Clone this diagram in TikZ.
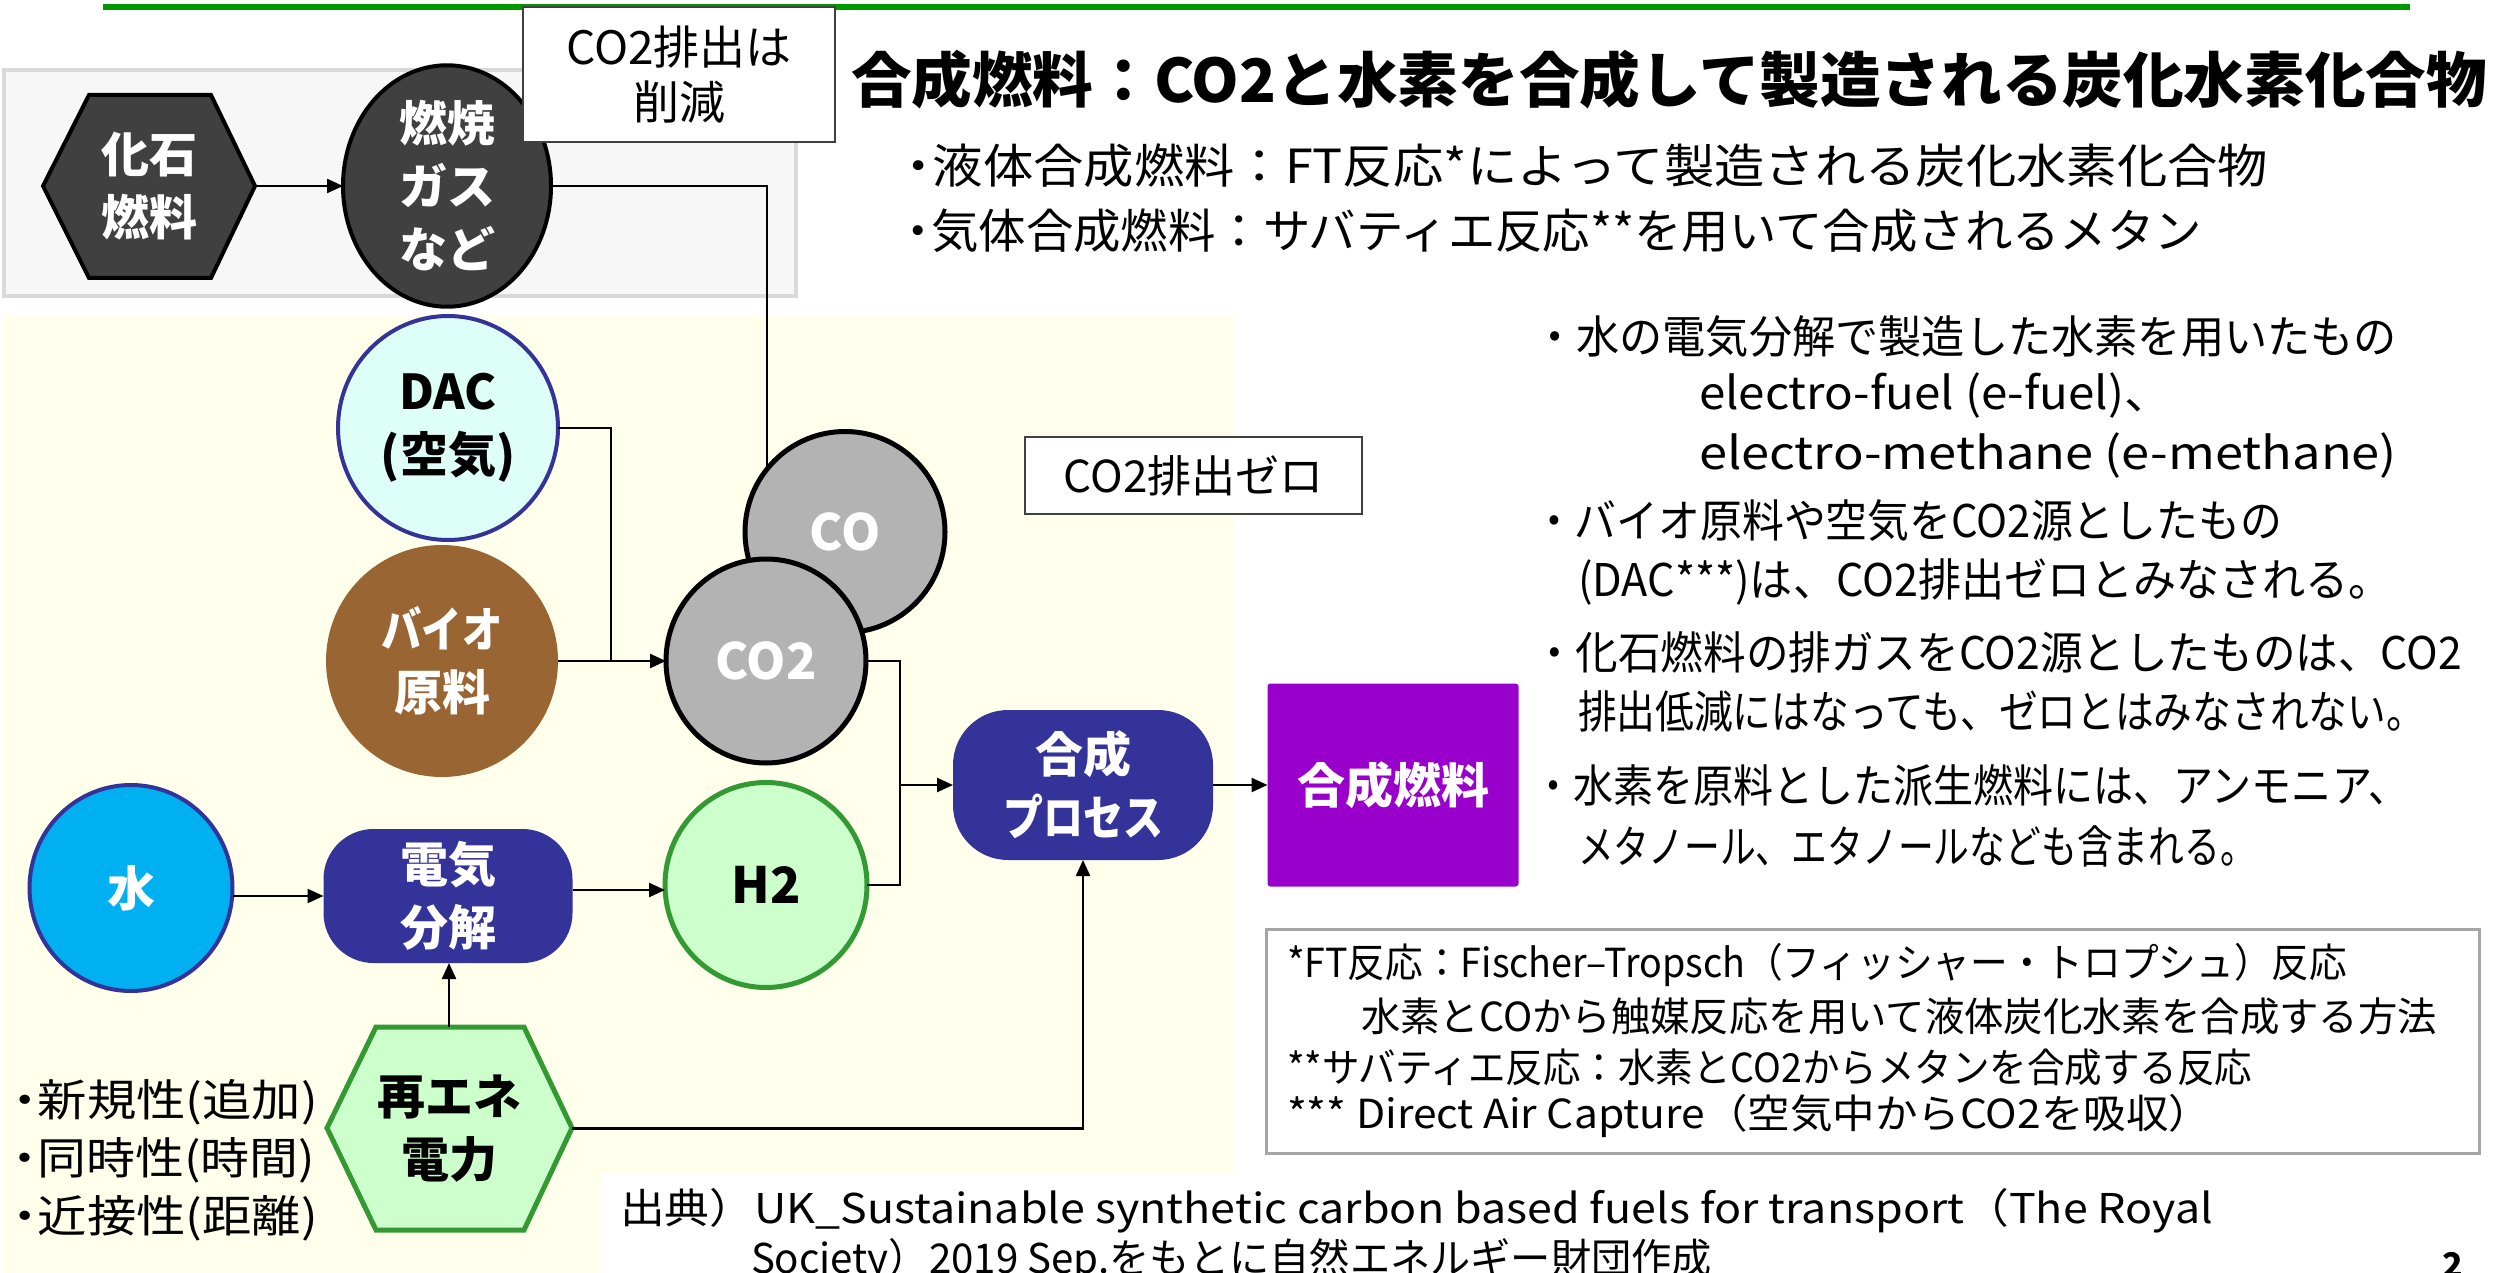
\documentclass[tikz,border=0pt]{standalone}
\usepackage{fontspec}
\usepackage{graphicx}
\setmainfont{Noto Sans CJK JP}
\usetikzlibrary{shapes.geometric,arrows.meta,calc}
\definecolor{navy}{HTML}{333399}
\definecolor{ylw}{HTML}{FFFFEB}
\definecolor{dgray}{HTML}{404040}
\definecolor{mgray}{HTML}{B3B3B3}
\definecolor{lgreen}{HTML}{CCFFCC}
\definecolor{dgreen}{HTML}{339933}
\definecolor{aqua}{HTML}{DDFFF7}
\definecolor{skyb}{HTML}{00B0F0}
\definecolor{bbrown}{HTML}{996633}
\definecolor{purp}{HTML}{9900CC}
\definecolor{topgreen}{HTML}{009900}
\definecolor{boxgray}{HTML}{F7F7F7}
\definecolor{boxline}{HTML}{D9D9D9}
\definecolor{fnline}{HTML}{A6A6A6}
\newcommand\fsz[2]{\fontsize{#1pt}{#2pt}\selectfont}
\newcommand\fitw[2]{\resizebox{#1pt}{\height}{#2}}
\begin{document}
\begin{tikzpicture}[x=1pt,y=-1pt,
  every node/.style={inner sep=0pt,outer sep=0pt},
  conn/.style={line width=2.4pt,draw=black},
  arr/.style={line width=2.4pt,draw=black,-{Triangle[length=16pt,width=14pt]}},
  lbl/.style={align=center,font=\fsz{48}{63}\bfseries},
  ell/.style={ellipse,lbl},
  rbox/.style={lbl,fill=navy,text=white},
  txt/.style={anchor=west,font=\fsz{45}{54}},
  fn/.style={anchor=west,font=\fsz{40}{50}},
  src/.style={anchor=west,font=\fsz{41}{50}},
  lb/.style={anchor=west,font=\fsz{44}{52}}]
\useasboundingbox (0,0) rectangle (2494,1273);
% backgrounds
\fill[ylw] (4,316) rectangle (1233,1273);
\fill[white] (602,1174) rectangle (1233,1273);
\draw[boxline,fill=boxgray,line width=4pt] (4,70) rectangle (796,296);
\fill[topgreen] (103,4) rectangle (2410,10);
% fossil row
\filldraw[fill=dgray,draw=black,line width=4pt] (43,186) -- (89,95) -- (211,95) -- (255,186) -- (211,278) -- (89,278) -- cycle;
\node[lbl,text=white,minimum width=212,minimum height=183] (fossil) at (149,186) {化石\\燃料};
\node[ell,fill=dgray,draw=black,line width=4pt,text=white,minimum width=208,minimum height=208] (burn) at (447,186) {燃焼\\ガス\\など};
\draw[arr] (fossil.east) -- (burn.west);
\node[draw=dgray,fill=white,line width=2pt,minimum width=312,minimum height=135,align=center,font=\fsz{46}{55}] (cut) at (679,74.5) {CO2排出は\\削減};
% sources
\node[ell,fill=aqua,draw=navy,line width=4pt,minimum width=220,minimum height=224] (dac) at (448,428) {DAC\\(空気)};
\node[ell,fill=bbrown,text=white,minimum width=232,minimum height=232] (bio) at (442,661) {\fitw{121}{バイオ}\\原料};
\node[ell,fill=mgray,draw=black,line width=5pt,text=white,minimum width=200,minimum height=201,font=\fsz{50}{60}\bfseries] (co) at (845,532) {CO};
\node[ell,fill=mgray,draw=black,line width=5pt,text=white,minimum width=200,minimum height=204,font=\fsz{50}{60}\bfseries] (co2) at (766,661) {CO2};
\draw[conn] (burn.east) -| (co.141);
\coordinate (jdac) at (611,661);
\draw[conn] (dac.east) -| (jdac);
\draw[arr] (bio.east) -- (co2.west);
% hydrogen row
\node[ell,fill=skyb,draw=navy,line width=4pt,text=white,minimum width=203,minimum height=206] (water) at (131,888) {水};
\node[rbox,minimum width=249,minimum height=134,rounded corners=50pt] (elec) at (448,896) {電気\\分解};
\node[ell,fill=lgreen,draw=dgreen,line width=5pt,minimum width=202,minimum height=205,font=\fsz{50}{60}\bfseries] (h2) at (766,885) {H2};
\draw[arr] (water.east |- elec.west) -- (elec.west);
\draw[arr] ($(elec.east)+(0,-6)$) -- ($(elec.east -| h2.west)+(0,-6)$);
\filldraw[fill=lgreen,draw=dgreen,line width=5pt] (327,1128) -- (376,1027) -- (524,1027) -- (572,1128) -- (524,1230) -- (376,1230) -- cycle;
\node[lbl,minimum width=245,minimum height=203] (rene) at (449,1128.5) {再エネ\\電力};
\draw[arr] (rene.north) -- (rene.north |- elec.south);
% process
\node[rbox,minimum width=260,minimum height=150,rounded corners=55pt] (proc) at (1083,785) {合成\\\fitw{160}{プロセス}};
\node[lbl,fill=purp,text=white,minimum width=251,minimum height=203,rounded corners=3pt] (fuel) at (1393,785) {合成燃料};
\coordinate (jproc) at (900,785);
\draw[arr] (co2.east) -| (jproc) -- (proc.west);
\draw[conn] (h2.east) -| (jproc);
\draw[arr] (rene.east) -| (proc.south);
\draw[arr] (proc.east) -- (fuel.west);
\node[draw=dgray,fill=white,line width=2pt,minimum width=337,minimum height=77,font=\fsz{44}{50}] (zero) at (1193.5,475.5) {CO2排出ゼロ};
% left bullets
\node[lb] (l1) at (13,1102) {\fitw{305}{\makebox[22pt]{・}新規性(追加)}};
\node[lb] (l2) at (13,1160) {\fitw{302}{\makebox[22pt]{・}同時性(時間)}};
\node[lb] (l3) at (13,1218) {\fitw{305}{\makebox[22pt]{・}近接性(距離)}};
% title
\node[anchor=west,font=\fsz{60}{66}\bfseries] (title) at (851,80) {\fitw{1636}{合成燃料：CO2と水素を合成して製造される炭化水素化合物}};
\node[anchor=west,font=\fsz{47}{56}] (sub1) at (905,166) {\fitw{1363}{\makebox[26pt]{・}液体合成燃料：FT反応*によって製造される炭化水素化合物}};
\node[anchor=west,font=\fsz{47}{56}] (sub2) at (905,231) {\fitw{1297}{\makebox[26pt]{・}気体合成燃料：サバティエ反応**を用いて合成されるメタン}};
% right bullets
\node[txt] (b1) at (1533,337) {\fitw{864}{・水の電気分解で製造した水素を用いたもの}};
\node[txt] (b1a) at (1699,396) {\fitw{473}{electro-fuel (e-fuel)、}};
\node[txt] (b1b) at (1699,456) {\fitw{698}{electro-methane (e-methane)}};
\node[txt] (b2) at (1533,521) {\fitw{749}{・バイオ原料や空気をCO2源としたもの}};
\node[txt] (b2a) at (1578,582) {\fitw{814}{(DAC***)は、CO2排出ゼロとみなされる。}};
\node[txt] (b3) at (1533,652) {\fitw{929}{・化石燃料の排ガスをCO2源としたものは、CO2}};
\node[txt] (b3a) at (1578,711) {\fitw{847}{排出低減にはなっても、ゼロとはみなされない。}};
\node[txt] (b4) at (1533,785) {\fitw{875}{・水素を原料とした派生燃料には、アンモニア、}};
\node[txt] (b4a) at (1578,846) {\fitw{678}{メタノール、エタノールなども含まれる。}};
% footnotes
\node[draw=fnline,line width=3pt,minimum width=1213,minimum height=224] (fnbox) at (1872.5,1041) {};
\node[fn] (f1) at (1287,965) {\fitw{1060}{*FT反応：Fischer–Tropsch（フィッシャー・トロプシュ）反応}};
\node[fn] (f2) at (1361,1016) {\fitw{1076}{水素とCOから触媒反応を用いて液体炭化水素を合成する方法}};
\node[fn] (f3) at (1287,1067) {\fitw{965}{**サバティエ反応：水素とCO2からメタンを合成する反応}};
\node[fn] (f4) at (1287,1116) {\fitw{924}{*** Direct Air Capture（空気中からCO2を吸収）}};
% source
\node[src] (s1) at (620,1211) {\fitw{1593}{出典）UK\_Sustainable synthetic carbon based fuels for transport（The Royal}};
\node[src] (s2) at (751,1261) {\fitw{961}{Society）2019 Sep.をもとに自然エネルギー財団作成}};
\node[anchor=north,font=\fsz{34}{40}\bfseries] (pg) at (2453,1252) {2};
\end{tikzpicture}
\end{document}
